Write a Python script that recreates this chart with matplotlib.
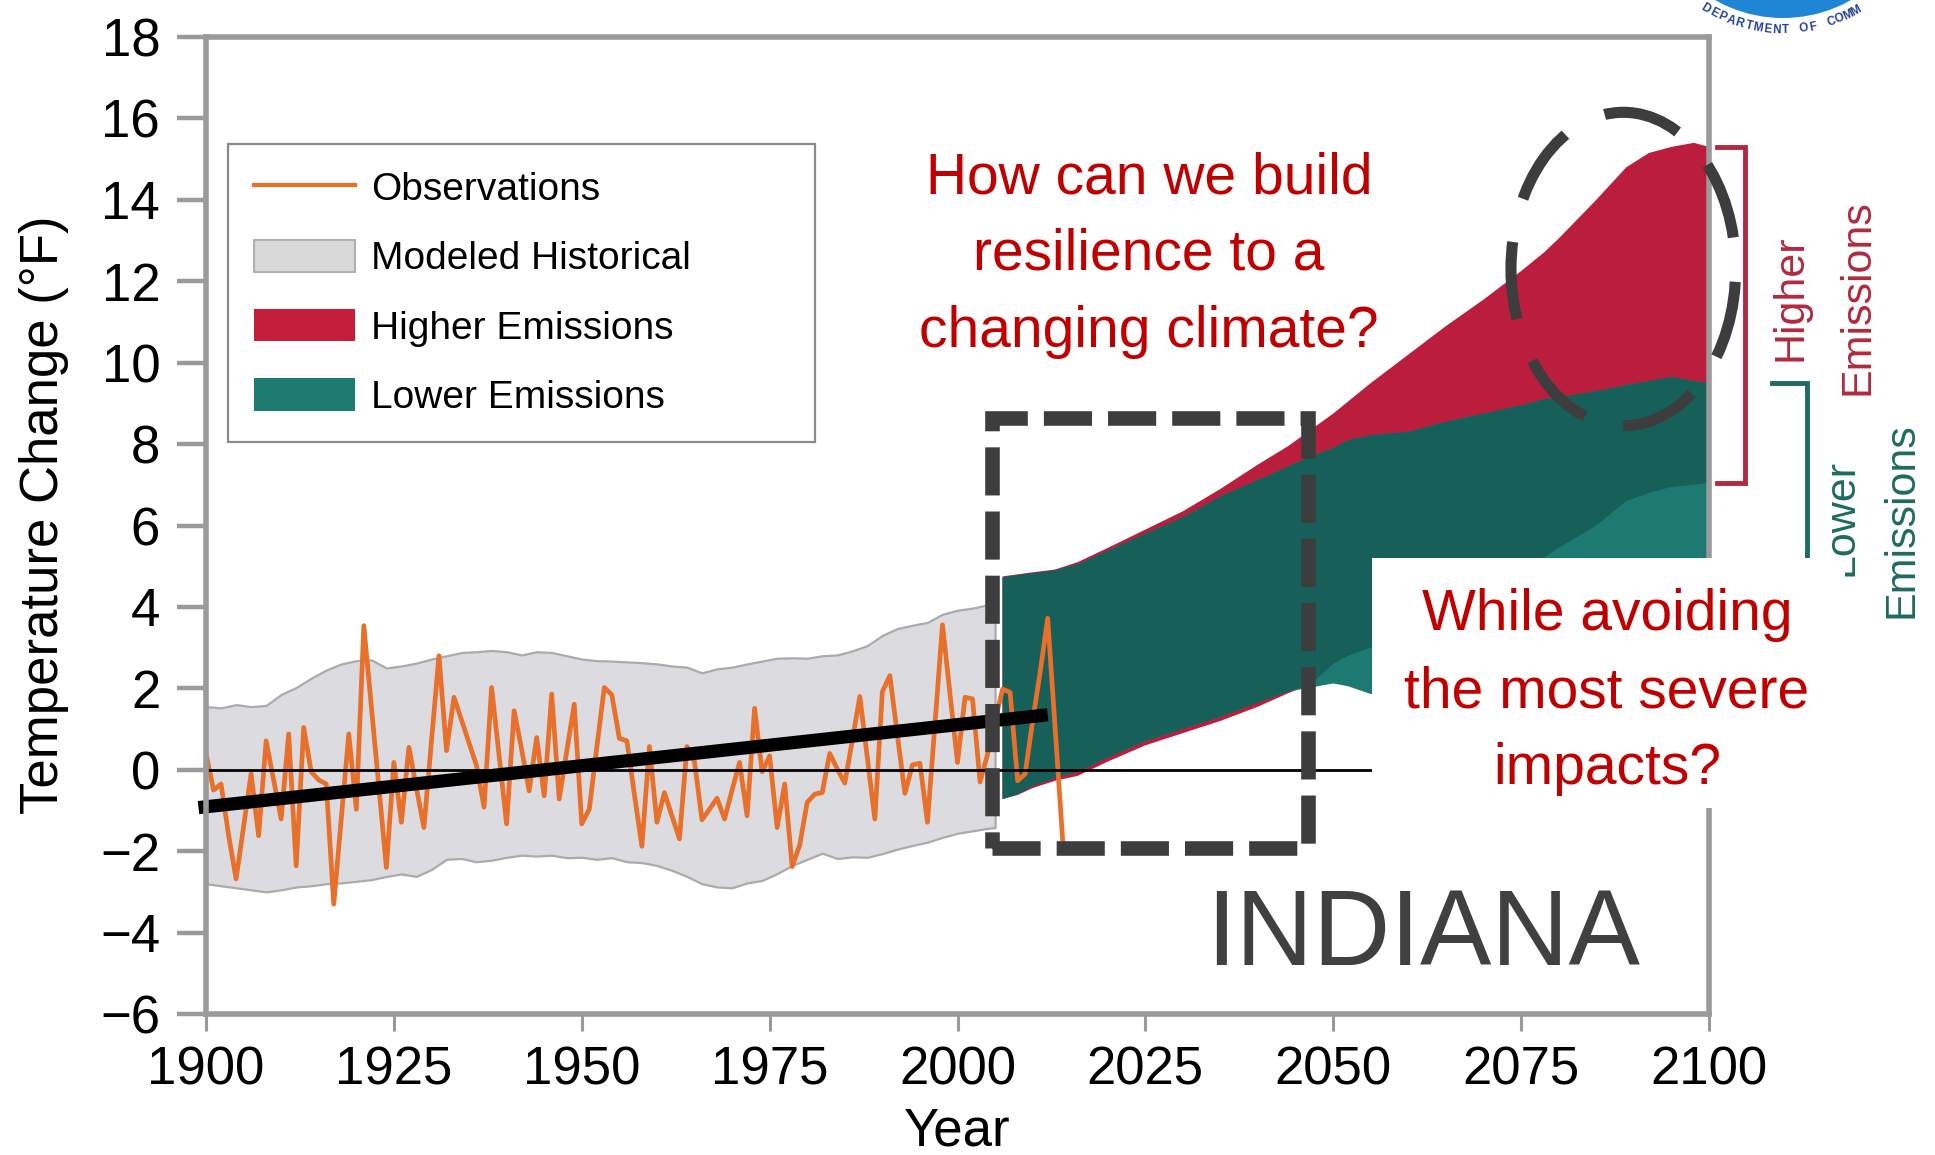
import numpy as np
import matplotlib
matplotlib.use("Agg")
import matplotlib.pyplot as plt
from matplotlib.patches import Rectangle, Ellipse, Circle, Patch
from matplotlib.lines import Line2D

# ------------------------------------------------------------------ data
obs_years = list(range(1900, 2015))
obs_temp = [
    0.40, -0.50, -0.35, -1.60, -2.68, -1.40, -0.10, -1.62, 0.71, -0.25,   # 1900s
    -1.21, 0.88, -2.36, 1.04, -0.05, -0.25, -0.35, -3.30, -1.20, 0.88,    # 1910s
    -0.97, 3.54, 1.56, -0.42, -2.40, 0.18, -1.29, 0.55, -0.45, -1.42,     # 1920s
    0.70, 2.80, 0.47, 1.78, 1.22, 0.66, 0.10, -0.92, 2.02, 0.35,          # 1930s
    -1.33, 1.45, 0.50, -0.52, 0.79, -0.64, 1.86, -0.72, 0.45, 1.61,       # 1940s
    -1.33, -0.97, 0.55, 2.02, 1.84, 0.77, 0.71, -0.60, -1.88, 0.57,       # 1950s
    -1.29, -0.56, -1.13, -1.70, 0.57, 0.20, -1.23, -0.97, -0.70, -1.21,   # 1960s
    -0.50, 0.18, -1.13, 1.51, -0.05, 0.34, -1.42, -0.35, -2.38, -1.85,    # 1970s
    -0.80, -0.60, -0.56, 0.40, 0.02, -0.33, 0.72, 1.80, 0.30, -1.21,      # 1980s
    1.92, 2.31, 0.85, -0.58, 0.12, 0.16, -1.29, 1.12, 3.56, 1.87,         # 1990s
    0.18, 1.78, 1.74, -0.30, 0.38, 1.20, 1.98, 1.90, -0.27, -0.10,        # 2000s
    1.20, 2.40, 3.72, 1.00, -1.75,                                        # 2010s
]

trend_years = [1899, 2012]
trend_temp = [-0.93, 1.35]

hist_years = [1900, 1902, 1904, 1906, 1908, 1910, 1912, 1914, 1916, 1918,
              1920, 1922, 1924, 1926, 1928, 1930, 1932, 1934, 1936, 1938,
              1940, 1942, 1944, 1946, 1948, 1950, 1952, 1954, 1956, 1958,
              1960, 1962, 1964, 1966, 1968, 1970, 1972, 1974, 1976, 1978,
              1980, 1982, 1984, 1986, 1988, 1990, 1992, 1994, 1996, 1998,
              2000, 2002, 2004, 2005]
hist_hi = [1.55, 1.52, 1.60, 1.55, 1.58, 1.85, 2.02, 2.25, 2.45, 2.60,
           2.68, 2.70, 2.50, 2.55, 2.62, 2.72, 2.80, 2.88, 2.90, 2.93,
           2.90, 2.82, 2.90, 2.88, 2.80, 2.72, 2.68, 2.67, 2.65, 2.63,
           2.60, 2.55, 2.52, 2.38, 2.48, 2.52, 2.60, 2.67, 2.74, 2.75,
           2.74, 2.80, 2.82, 2.92, 3.05, 3.30, 3.47, 3.55, 3.62, 3.82,
           3.92, 3.97, 4.05, 4.10]
hist_lo = [-2.80, -2.85, -2.90, -2.95, -3.00, -2.95, -2.88, -2.85, -2.80, -2.78,
           -2.74, -2.70, -2.62, -2.56, -2.62, -2.45, -2.20, -2.18, -2.26, -2.22,
           -2.15, -2.10, -2.12, -2.10, -2.16, -2.15, -2.20, -2.16, -2.26, -2.28,
           -2.35, -2.47, -2.62, -2.80, -2.88, -2.90, -2.78, -2.72, -2.55, -2.35,
           -2.20, -2.05, -2.18, -2.14, -2.15, -2.06, -1.95, -1.86, -1.78, -1.66,
           -1.56, -1.50, -1.44, -1.42]

proj_years = [2006, 2008, 2010, 2013, 2016, 2020, 2025, 2030, 2035, 2040,
              2044, 2047, 2050, 2052, 2055, 2060, 2065, 2070, 2075, 2078,
              2080, 2085, 2089, 2092, 2095, 2098, 2100]
higher_hi = [4.75, 4.80, 4.85, 4.92, 5.10, 5.45, 5.90, 6.35, 6.90, 7.50,
             7.95, 8.35, 8.75, 9.05, 9.50, 10.20, 10.90, 11.55, 12.25, 12.70,
             13.05, 14.00, 14.80, 15.15, 15.30, 15.40, 15.30]
higher_lo = [-0.72, -0.62, -0.45, -0.27, -0.15, 0.20, 0.60, 0.90, 1.20, 1.55,
             1.88, 2.10, 2.60, 2.80, 3.00, 3.50, 4.00, 4.50, 4.95, 5.20,
             5.45, 6.00, 6.60, 6.80, 6.95, 7.00, 7.05]
lower_hi = [4.72, 4.78, 4.83, 4.90, 5.05, 5.38, 5.80, 6.20, 6.72, 7.12,
            7.45, 7.70, 7.90, 8.10, 8.22, 8.30, 8.55, 8.75, 8.95, 9.10,
            9.15, 9.30, 9.45, 9.55, 9.65, 9.55, 9.50]
lower_lo = [-0.72, -0.60, -0.40, -0.20, -0.05, 0.30, 0.70, 1.00, 1.30, 1.65,
            1.92, 2.02, 2.12, 2.05, 1.86, 2.00, 2.20, 2.40, 2.60, 2.70,
            2.80, 2.95, 3.05, 3.10, 3.15, 3.20, 3.20]

x_ticks = [1900, 1925, 1950, 1975, 2000, 2025, 2050, 2075, 2100]
y_ticks = list(range(-6, 19, 2))

legend_labels = ["Observations", "Modeled Historical", "Higher Emissions", "Lower Emissions"]
question_lines = ["How can we build", "resilience to a", "changing climate?"]
followup_lines = ["While avoiding", "the most severe", "impacts?"]
region_name = "INDIANA"
seal_text = "DEPARTMENT OF COMMERCE"

# ------------------------------------------------------------------ style
W, H, DPI = 1935, 1155, 100
FONT = "Liberation Sans"
plt.rcParams["font.family"] = [FONT, "DejaVu Sans"]

OBS_C = "#E8702A"
GRAY_FILL = "#DCDCE0"
GRAY_EDGE = "#ABABAB"
RED = "#BA1E3C"
TEAL_LIGHT = "#1C7A72"
TEAL_DARK = "#175F59"
AXIS_GRAY = "#9A9A9A"
DASH_C = "#3D3D3D"
Q_RED = "#C00000"
BRACKET_RED = "#B02A3F"
BRACKET_TEAL = "#1F6B60"

fig = plt.figure(figsize=(W / DPI, H / DPI), dpi=DPI)
ax = fig.add_axes([206 / W, 1 - 1014 / H, 1503 / W, 977 / H], zorder=1)

# modeled historical range
ax.fill_between(hist_years, hist_lo, hist_hi, facecolor=GRAY_FILL,
                edgecolor=GRAY_EDGE, linewidth=1.6, zorder=1)

# projected ranges: higher, lower and their overlap
hh, hl = np.array(higher_hi), np.array(higher_lo)
lh, ll = np.array(lower_hi), np.array(lower_lo)
ax.fill_between(proj_years, hl, hh, facecolor=RED, linewidth=0, zorder=2)
ax.fill_between(proj_years, ll, lh, facecolor=TEAL_LIGHT, linewidth=0, zorder=2)
ov_lo, ov_hi = np.maximum(hl, ll), np.minimum(hh, lh)
ax.fill_between(proj_years, ov_lo, ov_hi, where=ov_hi > ov_lo, interpolate=True,
                facecolor=TEAL_DARK, linewidth=0, zorder=3)

# observations, zero line, linear trend
ax.plot(obs_years, obs_temp, color=OBS_C, lw=3.4, zorder=4)
ax.axhline(0, color="black", lw=2.0, zorder=5)
ax.plot(trend_years, trend_temp, color="black", lw=9.5, solid_capstyle="butt",
        zorder=6, clip_on=False)

# axes frame and ticks
ax.set_xlim(1900, 2100)
ax.set_ylim(-6, 18)
ax.set_xticks(x_ticks)
ax.set_yticks(y_ticks)
for side, sp in ax.spines.items():
    sp.set_color(AXIS_GRAY)
    sp.set_linewidth(4.0)
    sp.set_zorder(7)
ax.tick_params(axis="y", direction="out", length=21, width=3.2, color=AXIS_GRAY,
               pad=12, labelsize=38, labelcolor="black")
ax.tick_params(axis="x", direction="out", length=12, width=2.2, color=AXIS_GRAY,
               pad=11, labelsize=38, labelcolor="black")
ax.set_facecolor("white")

ax.set_ylabel("Temperature Change (°F)", fontsize=38, va="center")
ax.yaxis.set_label_coords(-0.1077, 0.511)
ax.set_xlabel("Year", fontsize=38, va="baseline")
ax.xaxis.set_label_coords(0.5, -0.135)

# legend
handles = [
    Line2D([], [], color=OBS_C, lw=3.0),
    Patch(facecolor="#D9D9D9", edgecolor="#B0B0B0", linewidth=1.5),
    Patch(facecolor="#C41E3A", edgecolor="none"),
    Patch(facecolor="#1E7B70", edgecolor="none"),
]
leg = ax.legend(handles, legend_labels, loc="upper left",
                bbox_to_anchor=(0.0146, 0.5896, 0.3906, 0.3004), mode="expand",
                borderaxespad=0, fontsize=28, frameon=True, fancybox=False,
                framealpha=1, edgecolor="#8A8A8A", handlelength=2.6,
                handleheight=0.9, handletextpad=0.42, labelspacing=0.82,
                borderpad=0.66)
leg.get_frame().set_linewidth(1.6)
leg.set_zorder(8)

# highlighted near-term window and end-of-century window
near_box = Rectangle((2004.6, -1.91), 42.1, 10.56, fill=False, edgecolor=DASH_C,
                     linewidth=10.5, linestyle=(0, (3.3, 1.1)),
                     joinstyle="miter", clip_on=False, zorder=10)
ax.add_patch(near_box)
end_ring = Ellipse((2088.6, 12.3), 29.9, 7.7, fill=False, edgecolor=DASH_C,
                   linewidth=8, linestyle=(0, (7, 4)), clip_on=False, zorder=10)
ax.add_patch(end_ring)

# range brackets at 2100
bx_red = [2101.1, 2104.8]
ax.plot([bx_red[0], bx_red[1], bx_red[1], bx_red[0]],
        [higher_hi[-1], higher_hi[-1], higher_lo[-1], higher_lo[-1]],
        color=BRACKET_RED, lw=3.5, clip_on=False, zorder=9,
        solid_joinstyle="miter")
bx_teal = [2108.4, 2113.0]
ax.plot([bx_teal[0], bx_teal[1], bx_teal[1]],
        [lower_hi[-1], lower_hi[-1], lower_lo[-1]],
        color=BRACKET_TEAL, lw=3.5, clip_on=False, zorder=9,
        solid_joinstyle="miter")

# ------------------------------------------------------------------ overlay (pixel space)
ov = fig.add_axes([0, 0, 1, 1], zorder=5)
ov.set_xlim(0, W)
ov.set_ylim(H, 0)
ov.axis("off")
ov.patch.set_alpha(0)

# rotated scenario labels beside the brackets
ov.text(1790, 298, "Higher", rotation=90, ha="center", va="center",
        fontsize=31, color=BRACKET_RED, zorder=1)
ov.text(1858, 297, "Emissions", rotation=90, ha="center", va="center",
        fontsize=31, color=BRACKET_RED, zorder=1)
ov.text(1842, 518, "Lower", rotation=90, ha="center", va="center",
        fontsize=31, color=BRACKET_TEAL, zorder=1)
ov.text(1901, 520, "Emissions", rotation=90, ha="center", va="center",
        fontsize=31, color=BRACKET_TEAL, zorder=1)

# white panel for the follow-up question
ov.add_patch(Rectangle((1372, 558), 473, 250, facecolor="white",
                       edgecolor="none", zorder=2))

for i, line in enumerate(question_lines):
    ov.text(1149, 193 + 77 * i, line, ha="center", va="baseline",
            fontsize=41, color=Q_RED, zorder=3)
for i, line in enumerate(followup_lines):
    ov.text(1607, 630 + 77 * i, line, ha="center", va="baseline",
            fontsize=41, color=Q_RED, zorder=3)

ov.text(1423, 965, region_name, ha="center", va="baseline", fontsize=77,
        color="#404040", zorder=3)

# partial agency seal in the top-right corner (only the part inside the page)
cx, cy = 1783, -120
ov.add_patch(Circle((cx, cy), 138, facecolor="#1F86D6", edgecolor="none", zorder=3))
r_txt = 150
step = 3.55
for k, ch in enumerate(seal_text):
    phi = 121 - step * k
    px = cx + r_txt * np.cos(np.radians(phi))
    py = cy + r_txt * np.sin(np.radians(phi))
    if py < 6:
        continue
    ov.text(px, py, ch, rotation=-(phi - 90), ha="center", va="center",
            fontsize=8.5, fontweight="bold", color="#22409A", zorder=3,
            rotation_mode="anchor", clip_on=True)

fig.savefig("out.png", dpi=DPI, facecolor="white")
